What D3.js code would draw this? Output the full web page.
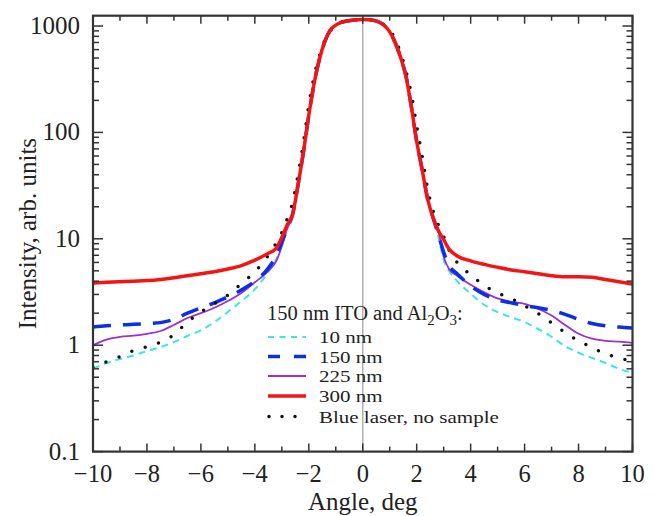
<!DOCTYPE html>
<html><head><meta charset="utf-8">
<script src="https://cdn.jsdelivr.net/npm/d3@7"></script>
<style>body{margin:0;background:#fff}svg{display:block}text{font-family:"Liberation Serif","Times New Roman",serif;fill:#222}</style>
</head><body><div id="chart"></div>
<script>
const angles = [-10,-9.5,-9,-8.5,-8,-7.5,-7,-6.5,-6,-5.5,-5,-4.5,-4,-3.5,-3.2,-3,-2.8,-2.6,-2.4,-2.2,-2,-1.8,-1.6,-1.4,-1.2,-1,-0.8,-0.6,-0.4,-0.2,0,
  0.2,0.4,0.6,0.8,1,1.2,1.4,1.6,1.8,2,2.2,2.4,2.6,2.8,3,3.2,3.5,4,4.5,5,5.5,6,6.5,7,7.5,8,8.5,9,9.5,10];
const lobeL = [17,32,65,145,290,495,720,917,1020,1080,1115,1135,1145,1150];          // -2.6 .. 0
const lobeR = [1145,1130,1090,1010,880,700,510,340,175,82,45,24,16];                // 0.2 .. 2.6
const nm10  = [0.6,0.68,0.74,0.8,0.88,0.96,1.07,1.22,1.38,1.65,2.05,2.6,3.35,4.9,6.5,8.8,12.5, ...lobeL, ...lobeR, 10.5,6.3,5.0,4.0,3.05,2.4,2.05,1.83,1.65,1.42,1.2,0.98,0.85,0.76,0.68,0.6,0.55];
const nm150 = [1.48,1.52,1.55,1.57,1.6,1.63,1.75,2.0,2.25,2.5,2.85,3.3,4.0,5.3,7.0,9.3,12.5, ...lobeL, ...lobeR, 11,7.5,5.6,4.7,3.6,3.0,2.66,2.5,2.35,2.25,2.12,1.95,1.75,1.6,1.52,1.48,1.45];
const nm225 = [1.0,1.13,1.2,1.23,1.28,1.36,1.55,1.8,2.0,2.25,2.6,3.1,3.9,5.0,6.2,8.5,12.5, ...lobeL, ...lobeR, 12,6.8,5.2,4.5,3.7,3.15,2.75,2.55,2.45,2.2,1.9,1.55,1.28,1.15,1.1,1.08,1.05];
const nm300 = [3.85,3.9,3.95,4.0,4.05,4.15,4.3,4.5,4.7,4.9,5.2,5.6,6.3,7.3,8.2,10.3,13.5, ...lobeL, ...lobeR, 12,9.8,8.0,6.9,6.2,5.75,5.4,5.1,4.9,4.7,4.5,4.4,4.4,4.35,4.15,3.95,3.75];
const laser = [0.62,0.7,0.78,0.89,0.97,1.07,1.25,1.65,2.05,2.45,2.95,3.8,4.9,7.0,9.2,11.5,15.5,22,40,80,180,340,530,740,900,1010,1080,1130,1145,1150,1150,
  1150,1140,1090,1020,900,760,560,380,230,115,60,30,18.5,13.5,10.5,7.8,6.0,4.6,3.65,3.1,2.75,2.35,1.98,1.62,1.32,1.1,0.95,0.83,0.76,0.7];
const seriesNames = ["10 nm","150 nm","225 nm","300 nm","Blue laser, no sample"];
const seriesValues = [nm10, nm150, nm225, nm300, laser];
const seriesColors = ["#3fe3ee","#0b2ee6","#9b30d2","#f51414","#111111"];
const seriesWidths = [2,3.5,1.8,3.5,3.5];
const seriesDash = ["7 5","18 12",null,null,"0 14"];
const xTicks = [-10,-8,-6,-4,-2,0,2,4,6,8,10];
const yTicks = [0.1,1,10,100,1000];
const legendTitle = "150 nm ITO and Al";

const W = 659, H = 516;
const L = 93, R = 632.5, T = 15.7, B = 451.6;
const svg = d3.select("#chart").append("svg").attr("width", W).attr("height", H);
const x = d3.scaleLinear().domain([-10,10]).range([L,R]);
const y = d3.scaleLog().domain([0.1,1250]).range([B,T]);

// zero line
svg.append("line").attr("x1",x(0)).attr("x2",x(0)).attr("y1",T).attr("y2",B).attr("stroke","#b0b0b0").attr("stroke-width",1.5);

// curves
svg.append("clipPath").attr("id","c").append("rect").attr("x",L).attr("y",T).attr("width",R-L).attr("height",B-T);
const line = d3.line().x((d,i)=>x(angles[i])).y(d=>y(d)).curve(d3.curveMonotoneX);
const order = [0,2,1,4,3];
order.forEach(k=>{
  const p = svg.append("path").attr("d", line(seriesValues[k])).attr("fill","none")
    .attr("stroke",seriesColors[k]).attr("stroke-width",seriesWidths[k]).attr("clip-path","url(#c)");
  if (seriesDash[k]) p.attr("stroke-dasharray",seriesDash[k]);
  if (k===4) p.attr("stroke-linecap","round");
});

// axes ticks
const minorX = d3.range(-10,11,1);
const frame = svg.append("g").attr("stroke","#333");
minorX.forEach(v=>{
  const len = (v%2===0)?8:5;
  frame.append("line").attr("x1",x(v)).attr("x2",x(v)).attr("y1",B).attr("y2",B-len).attr("stroke-width",1.5);
  frame.append("line").attr("x1",x(v)).attr("x2",x(v)).attr("y1",T).attr("y2",T+len).attr("stroke-width",1.5);
});
const yMinor = [];
[0.1,1,10,100,1000].forEach(d=>{ for(let m=1;m<=9;m++){ const v=d*m; if (v<=1250) yMinor.push(v);} });
yMinor.forEach(v=>{
  const major = Math.abs(Math.log10(v)-Math.round(Math.log10(v)))<1e-9;
  const len = major?10:6;
  frame.append("line").attr("x1",L).attr("x2",L+len).attr("y1",y(v)).attr("y2",y(v)).attr("stroke-width",1.5);
  frame.append("line").attr("x1",R).attr("x2",R-len).attr("y1",y(v)).attr("y2",y(v)).attr("stroke-width",1.5);
});
svg.append("rect").attr("x",L).attr("y",T).attr("width",R-L).attr("height",B-T).attr("fill","none").attr("stroke","#333").attr("stroke-width",2.2);

// tick labels
const fmtX = d3.format("d");
svg.append("g").selectAll("text").data(xTicks).join("text")
  .attr("x",d=>x(d)).attr("y",B+30).attr("text-anchor","middle").attr("font-size",24.5).text(d=>fmtX(d));
svg.append("g").selectAll("text").data(yTicks).join("text")
  .attr("x",L-13).attr("y",d=>y(d)+8).attr("text-anchor","end").attr("font-size",25).text(d=>String(d));

// axis titles
svg.append("text").attr("x",(L+R)/2).attr("y",510).attr("text-anchor","middle").attr("font-size",25).text("Angle, deg");
svg.append("text").attr("transform",`translate(36,${(T+B)/2}) rotate(-90)`).attr("text-anchor","middle").attr("font-size",25).text("Intensity, arb. units");

// legend
const lg = svg.append("g");
const t = lg.append("text").attr("x",267).attr("y",320).attr("font-size",20.5);
t.append("tspan").text(legendTitle);
t.append("tspan").attr("dy",5).attr("font-size",15).text("2");
t.append("tspan").attr("dy",-5).text("O");
t.append("tspan").attr("dy",5).attr("font-size",15).text("3");
t.append("tspan").attr("dy",-5).text(":");
const rowBase = [343, 362.5, 382, 402, 422.5];
seriesNames.forEach((n,k)=>{
  const yy = rowBase[k] - 6;
  const l = lg.append("line").attr("x1",268).attr("x2",306).attr("y1",yy).attr("y2",yy)
    .attr("stroke",seriesColors[k]).attr("stroke-width",seriesWidths[k]);
  if (seriesDash[k]) l.attr("stroke-dasharray", k===4 ? "0 13" : (k===0?"6 5.5":"12 14"));
  if (k===4) l.attr("stroke-linecap","round").attr("x1",269);
  lg.append("text").attr("transform",`translate(319,${rowBase[k]}) scale(1.2,1)`).attr("font-size",17.5).text(n);
});
</script></body></html>
